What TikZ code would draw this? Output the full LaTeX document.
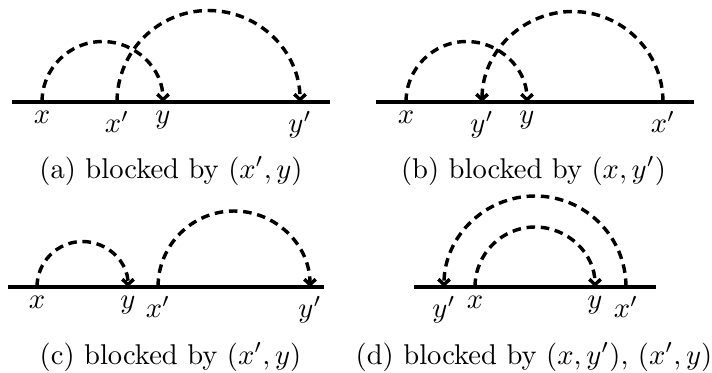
\documentclass[tikz,border=0pt]{standalone}
\usetikzlibrary{arrows.meta,calc}
\tikzset{
  axis/.style={line width=1.2pt},
  hop/.style={line width=1.2pt, dash pattern=on 3pt off 2pt, -{Straight Barb[length=1.9pt,width=4pt]}},
  lab/.style={below, inner sep=3pt},
  captext/.style={anchor=base}
}
\begin{document}
\begin{tikzpicture}[x=0.35pt,y=0.35pt]
\useasboundingbox (0,0) rectangle (712,372);
% ---------- (a)
\coordinate (aL) at (12,270); \coordinate (aR) at (330,270);
\coordinate (ax) at (42,270); \coordinate (axp) at (117,270);
\coordinate (ay) at (163,270); \coordinate (ayp) at (300,270);
\draw[axis] (aL) -- (aR);
\draw[hop] let \p1=(ax), \p2=(ay) in (\p1) arc[start angle=180,end angle=0,radius={(\x2-\x1)/2}];
\draw[hop] let \p1=(axp), \p2=(ayp) in (\p1) arc[start angle=180,end angle=0,radius={(\x2-\x1)/2}];
\node[lab] (lax) at (ax) {$x$};
\node[lab] (laxp) at (axp) {$x'$};
\node[lab] (lay) at (ay) {$y$};
\node[lab] (layp) at (ayp) {$y'$};
\node[captext] (capa) at (171,194) {(a) blocked by $(x',y)$};
% ---------- (b)
\coordinate (bL) at (376,270); \coordinate (bR) at (694,270);
\coordinate (bx) at (406,270); \coordinate (byp) at (482,270);
\coordinate (by) at (527,270); \coordinate (bxp) at (663,270);
\draw[axis] (bL) -- (bR);
\draw[hop] let \p1=(bx), \p2=(by) in (\p1) arc[start angle=180,end angle=0,radius={(\x2-\x1)/2}];
\draw[hop] let \p1=(bxp), \p2=(byp) in (\p1) arc[start angle=0,end angle=180,radius={(\x1-\x2)/2}];
\node[lab] (lbx) at (bx) {$x$};
\node[lab] (lbyp) at (byp) {$y'$};
\node[lab] (lby) at (by) {$y$};
\node[lab] (lbxp) at (bxp) {$x'$};
\node[captext] (capb) at (533.5,194) {(b) blocked by $(x,y')$};
% ---------- (c)
\coordinate (cL) at (8,85); \coordinate (cR) at (324,85);
\coordinate (cx) at (37,85); \coordinate (cy) at (128,85);
\coordinate (cxp) at (158,85); \coordinate (cyp) at (310,85);
\draw[axis] (cL) -- (cR);
\draw[hop] let \p1=(cx), \p2=(cy) in (\p1) arc[start angle=180,end angle=0,radius={(\x2-\x1)/2}];
\draw[hop] let \p1=(cxp), \p2=(cyp) in (\p1) arc[start angle=180,end angle=0,radius={(\x2-\x1)/2}];
\node[lab] (lcx) at (cx) {$x$};
\node[lab] (lcy) at (cy) {$y$};
\node[lab] (lcxp) at (cxp) {$x'$};
\node[lab] (lcyp) at (cyp) {$y'$};
\node[captext] (capc) at (170.5,8) {(c) blocked by $(x',y)$};
% ---------- (d)
\coordinate (dL) at (414,85); \coordinate (dR) at (656,85);
\coordinate (dyp) at (444,85); \coordinate (dx) at (475,85);
\coordinate (dy) at (595,85); \coordinate (dxp) at (626,85);
\draw[axis] (dL) -- (dR);
\draw[hop] let \p1=(dx), \p2=(dy) in (\p1) arc[start angle=180,end angle=0,radius={(\x2-\x1)/2}];
\draw[hop] let \p1=(dxp), \p2=(dyp) in (\p1) arc[start angle=0,end angle=180,radius={(\x1-\x2)/2}];
\node[lab] (ldyp) at (dyp) {$y'$};
\node[lab] (ldx) at (dx) {$x$};
\node[lab] (ldy) at (dy) {$y$};
\node[lab] (ldxp) at (dxp) {$x'$};
\node[captext] (capd) at (534,8) {(d) blocked by $(x,y')$, $(x',y)$};
\end{tikzpicture}
\end{document}
